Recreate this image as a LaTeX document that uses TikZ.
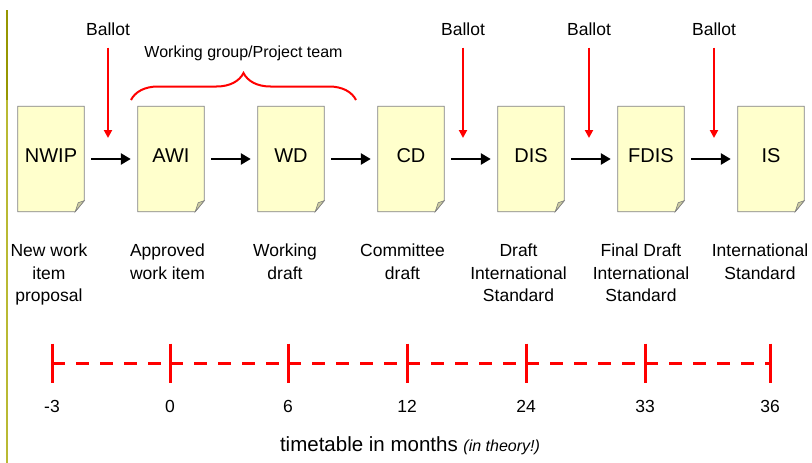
\documentclass[tikz,border=0pt]{standalone}
\usepackage{fontspec}
\setmainfont{Liberation Sans}
\usetikzlibrary{positioning}
\usetikzlibrary{calc}
\usetikzlibrary{matrix}
\usetikzlibrary{backgrounds}
\usetikzlibrary{arrows.meta}
\usetikzlibrary{decorations.pathreplacing}

\definecolor{pageyellow}{RGB}{255,255,204}
\definecolor{pagefold}{RGB}{204,204,160}
\definecolor{pageedge}{RGB}{128,128,128}
\definecolor{raildark}{RGB}{150,150,0}
\definecolor{raillight}{RGB}{185,185,50}

\tikzset{
  doc/.style={minimum width=66pt,minimum height=105pt,inner sep=0pt,
    text height=14.5pt,text depth=8pt,font=\fontsize{20}{24}\selectfont},
  stage/.style={align=center,inner sep=0pt,font=\fontsize{17.5}{22.5}\selectfont},
  flow/.style={line width=2.5pt,-{Triangle[length=10pt,width=11pt]},
    shorten <=7pt,shorten >=7pt},
  vote/.style={font=\fontsize{17.5}{21}\selectfont},
  votearrow/.style={red,line width=2pt,-{Triangle[length=8pt,width=8pt]},shorten <=8pt},
  groupbrace/.style={red,line width=2pt,decorate,
    decoration={brace,amplitude=27pt,aspect=0.5}},
  tick/.style={red,line width=3pt},
  timeline/.style={red,line width=3pt,dash pattern=on 12.5pt off 11.5pt},
  month/.style={font=\fontsize{17.5}{21}\selectfont}
}

\begin{document}
\begin{tikzpicture}[x=1pt,y=1pt]
\useasboundingbox (0,0) rectangle (812,-463);

% rule down the left edge
\draw[raildark,line width=2pt] (7,-10) -- (7,-100);
\draw[raillight,line width=2pt] (7,-100) -- (7,-463);

% the document stages
\matrix (m) [matrix of nodes,column sep=54pt,nodes={doc}] at (411,-159)
  {
     NWIP & AWI & WD & CD & DIS & FDIS & IS \\
  };

% paper sheets with a folded corner
\begin{scope}[on background layer]
\foreach \i in {1,...,7}{
  \filldraw[fill=pageyellow,draw=pageedge,line width=0.8pt]
    (m-1-\i.north west) -- (m-1-\i.north east)
    -- ($(m-1-\i.south east)+(0,11)$) -- ($(m-1-\i.south east)+(-9,0)$)
    -- (m-1-\i.south west) -- cycle;
  \filldraw[fill=pagefold,draw=pageedge,line width=0.6pt]
    ($(m-1-\i.south east)+(0,11)$) -- ($(m-1-\i.south east)+(-9,0)$)
    -- ($(m-1-\i.south east)+(-6,9)$) -- cycle;
}
\end{scope}

\path[flow]
  (m-1-1) edge (m-1-2)
  (m-1-2) edge (m-1-3)
  (m-1-3) edge (m-1-4)
  (m-1-4) edge (m-1-5)
  (m-1-5) edge (m-1-6)
  (m-1-6) edge (m-1-7);

% names under the sheets
\foreach \i/\dx/\txt in {1/-2/{New work\\item\\proposal},
                         2/-3.5/{Approved\\work item},
                         3/-6/{Working\\draft},
                         4/-8.5/{Committee\\draft},
                         5/-12.5/{Draft\\International\\Standard},
                         6/-10/{Final Draft\\International\\Standard},
                         7/-11/{International\\Standard}}
  \node[stage,below=32pt of m-1-\i,xshift=\dx pt] (l\i) {\txt};

% ballots
\foreach \k/\x in {1/108,2/463,3/589,4/714}{
  \node[vote] (b\k) at (\x,-29.7) {Ballot};
  \coordinate (v\k) at (\x,-138);
  \draw[votearrow] (b\k) -- (v\k);
}

% working group span
\coordinate (wg-l) at (131,-100);
\coordinate (wg-r) at (356,-100);
\draw[groupbrace] (wg-l) -- (wg-r)
  node[midway,yshift=47pt,text=black,font=\fontsize{16}{19}\selectfont] (wg)
  {Working group/Project team};

% time axis
\foreach \k/\x/\n in {1/52/-3,2/170/0,3/288/6,4/407/12,5/526/24,6/645/33,7/770/36}{
  \coordinate (t\k) at (\x,-363);
  \draw[tick] ($(t\k)+(0,19.5)$) -- ($(t\k)+(0,-19.5)$);
  \node[month] (n\k) at (\x,-406) {\n};
}
\foreach \a/\b in {1/2,2/3,3/4,4/5,5/6,6/7}
  \draw[timeline] (t\a) -- (t\b);

\node[anchor=base,font=\fontsize{20.5}{24}\selectfont] (caption) at (410,-451)
  {timetable in months {\fontsize{16}{19}\selectfont\itshape (in theory!)}};
\end{tikzpicture}
\end{document}
